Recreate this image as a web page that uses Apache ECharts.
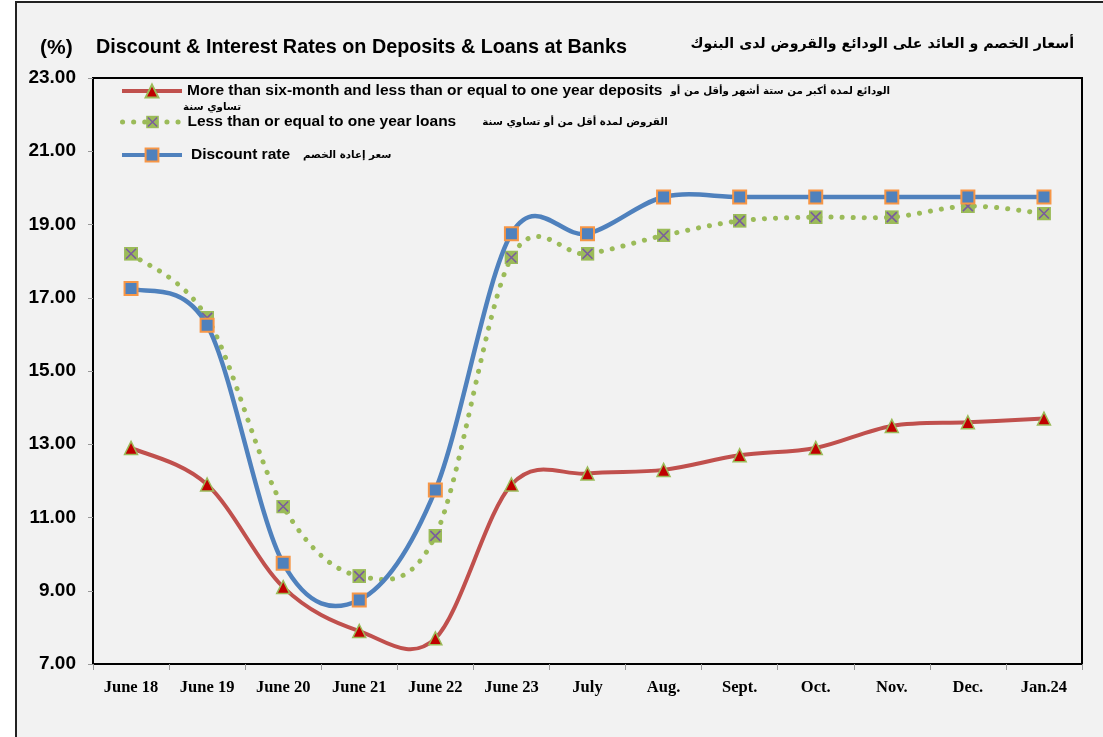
<!DOCTYPE html>
<html>
<head>
<meta charset="utf-8">
<script src="https://cdn.jsdelivr.net/npm/echarts@6/dist/echarts.min.js"></script>
<style>
  html, body { margin: 0; padding: 0; background: #fff; }
  #chart { width: 1103px; height: 737px; }
</style>
</head>
<body>
<div id="chart"></div>
<script>
// categories and values
var months = ['June 18', 'June 19', 'June 20', 'June 21', 'June 22', 'June 23', 'July', 'Aug.', 'Sept.', 'Oct.', 'Nov.', 'Dec.', 'Jan.24'];
var deposits = [12.9, 11.9, 9.1, 7.9, 7.7, 11.9, 12.2, 12.3, 12.7, 12.9, 13.5, 13.6, 13.7];
var loans = [18.2, 16.45, 11.3, 9.4, 10.5, 18.1, 18.2, 18.7, 19.1, 19.2, 19.2, 19.5, 19.3];
var discount = [17.25, 16.25, 9.75, 8.75, 11.75, 18.75, 18.75, 19.75, 19.75, 19.75, 19.75, 19.75, 19.75];

var depName = 'More than six-month and less than or equal to one year deposits';
var depAr = 'الودائع لمدة أكبر من ستة أشهر وأقل من أو';
var loanName = 'Less than or equal to one year loans';
var loanAr = 'القروض لمدة أقل من أو تساوي سنة';
var discName = 'Discount rate';
var discAr = 'سعر إعادة الخصم';

var RED = '#c0504d', GREEN = '#9bbb59', BLUE = '#4f81bd';
var DOTS = [0.1, 11];

// square with a purple cross, like the excel marker
var xSvg = '<svg xmlns="http://www.w3.org/2000/svg" width="14" height="14">' +
  '<rect x="0" y="0" width="14" height="14" fill="#9bbb59"/>' +
  '<path d="M2 2 L12 12 M12 2 L2 12" stroke="#7a5c9e" stroke-width="1.6"/></svg>';
var xSymbol = 'image://data:image/svg+xml;charset=utf-8,' + encodeURIComponent(xSvg);

function legendItem(name, arabic, top, pad, gap, line) {
  return {
    data: [name],
    left: 115,
    top: top,
    itemWidth: 60,
    itemHeight: 16,
    selectedMode: false,
    lineStyle: line,
    formatter: function (n) { return '{en|' + n + '}{ar|' + arabic + '}'; },
    textStyle: { rich: {
      en: { fontFamily: 'Liberation Sans', fontWeight: 'bold', fontSize: 15.5, color: '#000', padding: [0, 0, 0, pad] },
      ar: { fontFamily: 'DejaVu Sans', fontWeight: 'bold', fontSize: 10.3, color: '#000', padding: [0, 0, 0, gap] }
    } }
  };
}

// excel style smoothed curve (catmull-rom -> bezier), drawn through the axis scales
function curve(values, style, z) {
  return {
    type: 'custom',
    silent: true,
    z: z,
    data: values.map(function (v, i) { return [i, v]; }),
    encode: { x: 0, y: 1 },
    renderItem: function (params, api) {
      if (params.dataIndex !== 0) return null;
      var p = values.map(function (v, i) { return api.coord([i, v]); });
      var d = 'M' + p[0][0] + ' ' + p[0][1];
      for (var i = 0; i < p.length - 1; i++) {
        var a = p[i - 1] || p[i], b = p[i], c = p[i + 1], e = p[i + 2] || c;
        var c1x = b[0] + (c[0] - a[0]) / 6, c1y = b[1] + (c[1] - a[1]) / 6;
        var c2x = c[0] - (e[0] - b[0]) / 6, c2y = c[1] - (e[1] - b[1]) / 6;
        d += ' C' + c1x + ' ' + c1y + ' ' + c2x + ' ' + c2y + ' ' + c[0] + ' ' + c[1];
      }
      return { type: 'path', shape: { pathData: d }, style: style };
    }
  };
}

var chart = echarts.init(document.getElementById('chart'));
chart.setOption({
  backgroundColor: '#fff',
  animation: false,
  graphic: [
    { type: 'rect', z: -10, shape: { x: 16, y: 2, width: 1100, height: 745 },
      style: { fill: '#f2f2f2', stroke: '#222', lineWidth: 2 } },
    { type: 'text', z: 10, left: 183, top: 102,
      style: { text: 'تساوي سنة', font: 'bold 10.3px "DejaVu Sans"', fill: '#000' } }
  ],
  title: [
    { text: '(%)', left: 35, top: 33, textStyle: { fontFamily: 'Liberation Sans', fontWeight: 'bold', fontSize: 21, color: '#000' } },
    { text: 'Discount & Interest Rates on Deposits & Loans at Banks', left: 91, top: 33,
      textStyle: { fontFamily: 'Liberation Sans', fontWeight: 'bold', fontSize: 19.8, color: '#000' } },
    { text: 'أسعار الخصم و العائد على الودائع والقروض لدى البنوك', right: 24, top: 32,
      textStyle: { fontFamily: 'DejaVu Sans', fontWeight: 'bold', fontSize: 14.2, color: '#000' } }
  ],
  legend: [
    legendItem(depName, depAr, 78, 0, 8, { color: RED, width: 4, opacity: 1 }),
    legendItem(loanName, loanAr, 109, 0, 26, { color: GREEN, width: 5, type: DOTS, cap: 'round', opacity: 1 }),
    legendItem(discName, discAr, 142, 4, 13, { color: BLUE, width: 4, opacity: 1 })
  ],
  grid: { left: 93, right: 21, top: 78, bottom: 73, show: true, borderColor: '#000', borderWidth: 2, backgroundColor: 'transparent' },
  xAxis: {
    type: 'category',
    data: months,
    boundaryGap: true,
    axisLine: { lineStyle: { color: '#000', width: 2 } },
    axisTick: { show: true, length: 6, lineStyle: { color: '#999' } },
    axisLabel: { margin: 15, fontFamily: 'Liberation Serif', fontWeight: 'bold', fontSize: 16.5, color: '#000' },
    splitLine: { show: false }
  },
  yAxis: {
    type: 'value',
    min: 7, max: 23, interval: 2,
    axisLine: { show: true, lineStyle: { color: '#000', width: 2 } },
    axisTick: { show: true, length: 5, lineStyle: { color: '#999' } },
    axisLabel: { margin: 17, fontFamily: 'Liberation Sans', fontWeight: 'bold', fontSize: 19, color: '#000',
      formatter: function (v) { return v.toFixed(2); } },
    splitLine: { show: false }
  },
  series: [
    curve(deposits, { fill: 'none', stroke: RED, lineWidth: 4 }, 2),
    {
      name: depName, type: 'line', data: deposits,
      symbol: 'triangle', symbolSize: 13,
      lineStyle: { color: RED, width: 0, opacity: 0 },
      itemStyle: { color: '#c00000', borderColor: GREEN, borderWidth: 1.5 },
      z: 3
    },
    curve(loans, { fill: 'none', stroke: GREEN, lineWidth: 5, lineDash: DOTS, lineCap: 'round' }, 4),
    {
      name: loanName, type: 'line', data: loans,
      symbol: xSymbol, symbolSize: 14,
      lineStyle: { color: GREEN, width: 0, opacity: 0 },
      itemStyle: { color: GREEN },
      z: 5
    },
    curve(discount, { fill: 'none', stroke: BLUE, lineWidth: 4.5 }, 6),
    {
      name: discName, type: 'line', data: discount,
      symbol: 'rect', symbolSize: 13,
      lineStyle: { color: BLUE, width: 0, opacity: 0 },
      itemStyle: { color: BLUE, borderColor: '#f79646', borderWidth: 2 },
      z: 7
    }
  ]
});
</script>
</body>
</html>
